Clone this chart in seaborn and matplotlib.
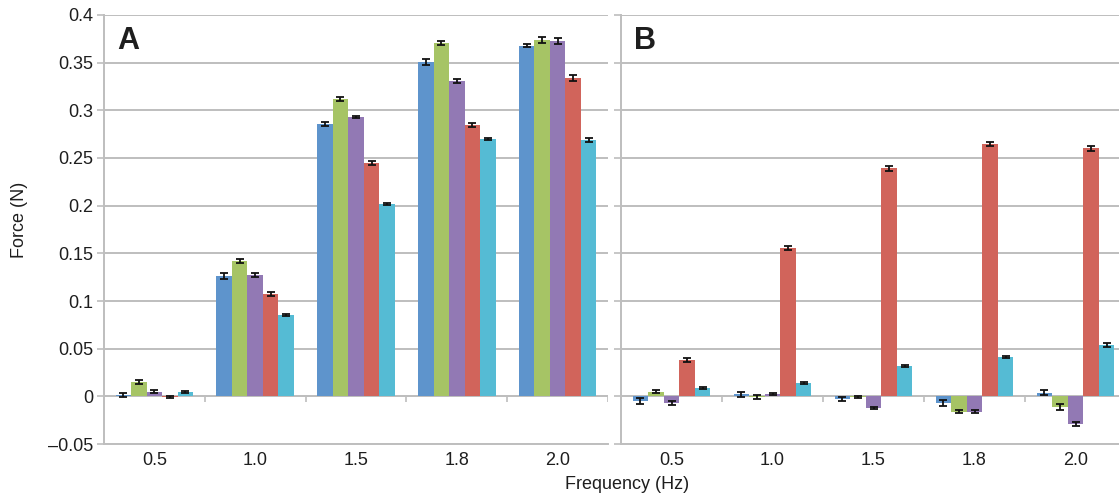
import numpy as np
import pandas as pd
import matplotlib
matplotlib.use("Agg")
import matplotlib.pyplot as plt
import seaborn as sns

# Stimulation frequencies (Hz) and the five measured series
frequencies = ["0.5", "1.0", "1.5", "1.8", "2.0"]
series = ["S1", "S2", "S3", "S4", "S5"]
palette = ["#5E94CC", "#A6C465", "#9279B4", "#D1645B", "#55BBD4"]

# Panel A: mean force (N) per frequency, one list per series
a_s1 = [0.001, 0.126, 0.286, 0.351, 0.368]
a_s2 = [0.015, 0.142, 0.312, 0.371, 0.374]
a_s3 = [0.005, 0.127, 0.293, 0.331, 0.373]
a_s4 = [-0.001, 0.107, 0.245, 0.285, 0.334]
a_s5 = [0.005, 0.085, 0.202, 0.270, 0.269]

a_e1 = [0.002, 0.003, 0.002, 0.003, 0.002]
a_e2 = [0.002, 0.002, 0.002, 0.002, 0.003]
a_e3 = [0.002, 0.002, 0.001, 0.002, 0.003]
a_e4 = [0.001, 0.002, 0.002, 0.002, 0.003]
a_e5 = [0.001, 0.001, 0.001, 0.001, 0.002]

# Panel B
b_s1 = [-0.005, 0.002, -0.003, -0.007, 0.004]
b_s2 = [0.005, -0.001, -0.001, -0.016, -0.011]
b_s3 = [-0.007, 0.002, -0.012, -0.016, -0.029]
b_s4 = [0.038, 0.156, 0.239, 0.265, 0.260]
b_s5 = [0.009, 0.014, 0.032, 0.041, 0.054]

b_e1 = [0.003, 0.003, 0.002, 0.003, 0.003]
b_e2 = [0.002, 0.002, 0.001, 0.002, 0.003]
b_e3 = [0.002, 0.001, 0.001, 0.002, 0.002]
b_e4 = [0.002, 0.002, 0.003, 0.002, 0.003]
b_e5 = [0.001, 0.001, 0.001, 0.001, 0.002]

y_ticks = [-0.05, 0, 0.05, 0.1, 0.15, 0.2, 0.25, 0.3, 0.35, 0.4]
y_tick_labels = ["\u20130.05", "0", "0.05", "0.1", "0.15", "0.2", "0.25", "0.3", "0.35", "0.4"]


def long_frame(values, errors):
    rows = []
    for name, vals, errs in zip(series, values, errors):
        for f, v, e in zip(frequencies, vals, errs):
            rows.append({"freq": f, "series": name, "force": v, "err": e})
    return pd.DataFrame(rows)


df_a = long_frame([a_s1, a_s2, a_s3, a_s4, a_s5], [a_e1, a_e2, a_e3, a_e4, a_e5])
df_b = long_frame([b_s1, b_s2, b_s3, b_s4, b_s5], [b_e1, b_e2, b_e3, b_e4, b_e5])

sns.set_theme(style="white")
plt.rcParams["font.family"] = ["Liberation Sans", "DejaVu Sans"]

W, H = 1119, 498
fig = plt.figure(figsize=(W / 100, H / 100), dpi=100)
ax_a = fig.add_axes([104 / W, 54 / H, (608 - 104) / W, 429 / H])
ax_b = fig.add_axes([621 / W, 54 / H, (1126 - 621) / W, 429 / H])

grid_c = "#BEBEBE"
text_c = "#1E1E1E"


def draw_panel(ax, df, letter, show_labels):
    sns.barplot(data=df, x="freq", y="force", hue="series", order=frequencies,
                hue_order=series, palette=palette, width=0.77, gap=0,
                errorbar=None, legend=False, saturation=1, ax=ax, zorder=3,
                linewidth=0)
    # error bars at the free end of each bar
    for name, container in zip(series, ax.containers):
        sub = df[df["series"] == name].set_index("freq").loc[frequencies]
        xs = [p.get_x() + p.get_width() / 2 for p in container.patches]
        ys = [p.get_y() + p.get_height() for p in container.patches]
        ax.errorbar(xs, ys, yerr=sub["err"].values, fmt="none", ecolor="#111111",
                    elinewidth=1.3, capsize=2.8, capthick=1.3, zorder=4)

    ax.set_xlim(-0.5, len(frequencies) - 0.5)
    ax.set_ylim(-0.05, 0.4)
    ax.set_yticks(y_ticks)
    ax.yaxis.grid(True, color=grid_c, linewidth=1.4, zorder=0)
    ax.set_axisbelow(True)
    for side in ["top", "right"]:
        ax.spines[side].set_visible(False)
    ax.spines["left"].set_color(grid_c)
    ax.spines["left"].set_linewidth(1.4)
    ax.spines["bottom"].set_color(grid_c)
    ax.spines["bottom"].set_linewidth(1.4)
    ax.tick_params(axis="y", direction="out", length=5, width=1.2, color=grid_c,
                   labelsize=13, labelcolor=text_c, pad=3, left=True)
    ax.tick_params(axis="x", length=0, labelsize=13, labelcolor=text_c, pad=6)
    if show_labels:
        ax.set_yticklabels(y_tick_labels)
    else:
        ax.set_yticklabels([])
    ax.set_xlabel("")
    ax.set_ylabel("")
    # category axis line at zero with separator ticks
    ax.axhline(0, color=grid_c, linewidth=1.4, zorder=2)
    ax.vlines(np.arange(0.5, len(frequencies), 1.0), -0.006, 0, color=grid_c,
              linewidth=1.2, zorder=2)
    ax.text(0.026, 0.975, letter, transform=ax.transAxes, ha="left", va="top",
            fontsize=22, fontweight="bold", color=text_c)


draw_panel(ax_a, df_a, "A", True)
draw_panel(ax_b, df_b, "B", False)

fig.text(20 / W, 1 - 220 / H, "Force (N)", rotation=90, ha="center", va="center",
         fontsize=13, color=text_c)
fig.text(627 / W, 1 - 484 / H, "Frequency (Hz)", ha="center", va="center",
         fontsize=13, color=text_c)

fig.savefig("out.png", dpi=100, facecolor="white")
